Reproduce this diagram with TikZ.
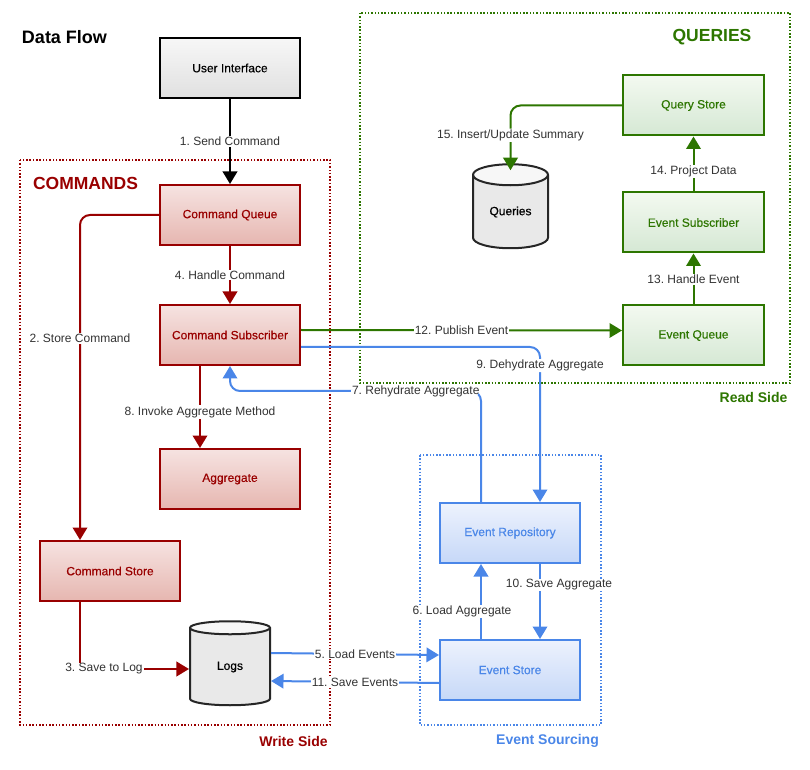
\documentclass[tikz,border=0pt]{standalone}
\usepackage{fontspec}
\setmainfont{Liberation Sans}
\newfontfamily\medfont[FakeBold=0.4]{Liberation Sans}
\usepackage{tikz}
\usetikzlibrary{positioning}
\usetikzlibrary{shapes.geometric}
\usetikzlibrary{arrows.meta}
\frenchspacing

\definecolor{cmdred}{HTML}{990000}
\definecolor{cmdtop}{HTML}{F6E3E1}
\definecolor{cmdbot}{HTML}{E6B6B0}
\definecolor{qrygreen}{HTML}{2D7600}
\definecolor{qrytop}{HTML}{F3F9F0}
\definecolor{qrybot}{HTML}{D5E8D4}
\definecolor{esblue}{HTML}{4A86E8}
\definecolor{estop}{HTML}{EDF2FD}
\definecolor{esbot}{HTML}{C6D8F8}
\definecolor{uitop}{HTML}{F7F7F7}
\definecolor{uibot}{HTML}{E0E0E0}
\definecolor{labelgray}{HTML}{333333}

\begin{document}
\begin{tikzpicture}[
        x = 1pt, y = 1pt,
        box/.style = {
                draw,
                rectangle,
                line width = 2pt,
                minimum width = 140pt,
                minimum height = 60pt,
                inner sep = 0pt,
                font = \fontsize{12}{14}\medfont
            },
        uibox/.style = {box, draw = black, top color = uitop, bottom color = uibot},
        cmdbox/.style = {box, draw = cmdred, text = cmdred, top color = cmdtop, bottom color = cmdbot},
        qrybox/.style = {box, draw = qrygreen, text = qrygreen, top color = qrytop, bottom color = qrybot, minimum width = 141pt},
        esbox/.style = {box, draw = esblue, text = esblue, top color = estop, bottom color = esbot},
        dbcyl/.style = {
                draw = black!85,
                cylinder,
                shape border rotate = 90,
                aspect = 0.5,
                line width = 2pt,
                inner sep = 0pt,
                cylinder uses custom fill,
                cylinder body fill = uibot!70,
                cylinder end fill = uitop,
                font = \fontsize{12}{14}\medfont
            },
        region/.style = {line width = 1.5pt, dash pattern = on 1.5pt off 1.8pt},
        flow/.style = {line width = 2pt, -{Triangle[length = 12.5pt, width = 14.5pt]}},
        lbl/.style = {fill = white, inner sep = 1pt, text = labelgray, font = \fontsize{12}{14}\selectfont},
        heading/.style = {font = \fontsize{17.5}{20}\selectfont\bfseries},
        side/.style = {font = \fontsize{14}{16}\selectfont\bfseries}
    ]
    \useasboundingbox (0,0) rectangle (810,769);

    % regions
    \draw[region, cmdred] (20,609) rectangle (330,44);
    \draw[region, qrygreen] (360,756) rectangle (790,386);
    \draw[region, esblue] (420,314) rectangle (601,44);

    \node[font = \fontsize{18}{20}\selectfont\bfseries] (title) at (64.5,732) {Data Flow};
    \node[heading, text = cmdred] (cmdhead) at (85.5,586) {COMMANDS};
    \node[heading, text = qrygreen] (qryhead) at (712,732) {QUERIES};
    \node[side, text = cmdred] (writeside) at (293.5,28) {Write Side};
    \node[side, text = qrygreen] (readside) at (753.5,372) {Read Side};
    \node[side, text = esblue] (essrc) at (547.5,28) {Event Sourcing};

    % write side
    \node[uibox] (ui) at (230,701) {User Interface};
    \node[cmdbox, below = 85pt of ui] (cq) {Command Queue};
    \node[cmdbox, below = 58pt of cq] (cs) {Command Subscriber};
    \node[cmdbox, below = 82pt of cs] (agg) {Aggregate};
    \node[cmdbox] (cstore) at (110,198) {Command Store};
    \node[dbcyl, minimum width = 80pt, minimum height = 84pt] (logs) at (230,102) {\raisebox{-4pt}{Logs}};

    % read side
    \node[qrybox] (qstore) at (693.5,663.5) {Query Store};
    \node[qrybox, below = 55pt of qstore] (esub) {Event Subscriber};
    \node[qrybox, below = 51pt of esub] (equeue) {Event Queue};
    \node[dbcyl, minimum width = 75pt, minimum height = 84pt] (qdb) at (510.5,557) {\raisebox{-4pt}{Queries}};

    % event sourcing
    \node[esbox] (erepo) at (510,236) {Event Repository};
    \node[esbox, below = 75pt of erepo] (estore) {Event Store};

    % connectors
    \draw[flow, black] (ui) -- node[lbl] {1. Send Command} (cq);
    \draw[flow, cmdred, rounded corners = 10pt] (cq.west) -| node[lbl, pos = 0.69] {2. Store Command} ([xshift = -30pt]cstore.north);
    \draw[flow, cmdred] ([xshift = -30pt]cstore.south) |- node[lbl, pos = 0.61] {3. Save to Log} ([yshift = -2pt]logs.west);
    \draw[flow, cmdred] (cq) -- node[lbl] {4. Handle Command} (cs);
    \draw[flow, esblue] ([yshift = 14pt]logs.east) -- node[lbl] {5. Load Events} ([yshift = 15pt]estore.west);
    \draw[flow, esblue] ([xshift = -29pt]estore.north) -- node[lbl, pos = 0.37, xshift = -19pt] {6. Load Aggregate} ([xshift = -29pt]erepo.south);
    \draw[flow, esblue, rounded corners = 10pt] ([xshift = -29pt]erepo.north) |- node[lbl, pos = 0.63] {7. Rehydrate Aggregate} ([yshift = -25pt]cs.south) -- (cs.south);
    \draw[flow, cmdred] ([xshift = -30pt]cs.south) -- node[lbl, pos = 0.56] {8. Invoke Aggregate Method} ([xshift = -30pt]agg.north);
    \draw[flow, esblue, rounded corners = 10pt] ([yshift = -12pt]cs.east) -| node[lbl, pos = 0.56] {9. Dehydrate Aggregate} ([xshift = 30pt]erepo.north);
    \draw[flow, esblue] ([xshift = 30pt]erepo.south) -- node[lbl, pos = 0.28, xshift = 19pt] {10. Save Aggregate} ([xshift = 30pt]estore.north);
    \draw[flow, esblue] ([yshift = -13pt]estore.west) -- node[lbl] {11. Save Events} ([yshift = -14pt]logs.east);
    \draw[flow, qrygreen] ([yshift = 5pt]cs.east) -- node[lbl] {12. Publish Event} ([yshift = 5pt]equeue.west);
    \draw[flow, qrygreen] (equeue) -- node[lbl, pos = 0.49] {13. Handle Event} (esub);
    \draw[flow, qrygreen] (esub) -- node[lbl, pos = 0.37] {14. Project Data} (qstore);
    \draw[flow, qrygreen, rounded corners = 10pt] (qstore.west) -| node[lbl, pos = 0.73] {15. Insert/Update Summary} ([yshift = -7pt]qdb.north);

\end{tikzpicture}
\end{document}
